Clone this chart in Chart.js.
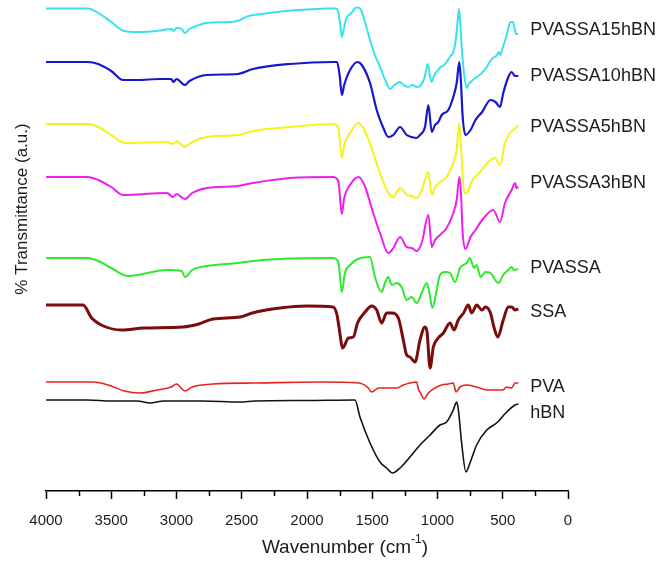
<!DOCTYPE html>
<html>
<head>
<meta charset="utf-8">
<script src="https://cdn.jsdelivr.net/npm/chart.js@4.4.0/dist/chart.umd.min.js"></script>
<style>
  body { margin: 0; background: #fff; }
  #wrap { width: 665px; height: 561px; }
</style>
</head>
<body>
<div id="wrap"><canvas id="myChart" width="665" height="561"></canvas></div>
<script>
// FTIR spectra, stacked with an offset. each point is [wavenumber (cm-1), transmittance (a.u.)]
const hBN = [[4000,91],[3680,91],[3500,90],[3300,90],[3203,88],[3100,90],[2800,90],[2513,89],[2400,90],[2000,90.5],[1632,91],[1594,74],[1517,48],[1441,29],[1390,23],[1344,18],[1287,23],[1211,34],[1134,46],[1057,56],[981,66],[930,69],[879,81],[853,89],[840,81],[815,48],[782,19],[751,28],[700,46],[623,61],[547,68],[470,79],[406,86],[381,87]]
const PVA = [[4000,109],[3640,109],[3500,105],[3400,100],[3280,98],[3150,101],[3040,104],[3000,107],[2935,100],[2880,104],[2720,107],[2400,108],[1900,109],[1600,108],[1530,103],[1505,99],[1450,103],[1313,103],[1262,106],[1211,108],[1160,109],[1145,101],[1134,99],[1103,92],[1070,98],[1019,103],[968,106],[917,107],[879,108],[858,99],[828,104],[777,106],[700,104],[623,101],[547,101],[500,101],[470,104],[432,103],[406,108],[381,108]]
const SSA = [[4000,186],[3716,186],[3650,173],[3560,165],[3418,161],[3250,163],[2950,164],[2830,167],[2720,172],[2513,174],[2420,178],[2207,183],[2000,185],[1800,184],[1770,176],[1755,164],[1726,143],[1683,153],[1645,154],[1613,168],[1555,179],[1504,185],[1466,181],[1428,168],[1390,178],[1350,178],[1300,173],[1262,151],[1236,136],[1211,134],[1172,129],[1134,151],[1096,164],[1080,159],[1057,123],[1032,144],[994,153],[955,158],[904,168],[873,161],[841,171],[800,178],[764,186],[738,178],[700,186],[660,181],[632,184],[594,178],[568,164],[538,154],[496,171],[457,184],[432,184],[406,181],[381,182]]
const PVASSA = [[4000,233],[3680,233],[3600,230],[3500,223],[3372,215],[3073,221],[2960,220],[2935,214],[2880,221],[2766,225],[2529,228],[2414,230],[2207,232],[1800,233],[1760,229],[1733,199],[1710,218],[1670,226],[1610,232],[1517,234],[1479,214],[1428,199],[1400,209],[1377,214],[1350,206],[1313,208],[1275,204],[1236,191],[1198,194],[1160,188],[1121,198],[1083,208],[1062,198],[1039,183],[1006,201],[981,216],[943,219],[904,218],[866,209],[828,223],[777,228],[751,233],[720,223],[700,226],[670,214],[632,219],[594,218],[534,208],[496,216],[457,221],[432,224],[415,221],[381,222]]
const PVASSA3hBN = [[4000,314],[3680,314],[3600,311],[3500,304],[3410,296],[3073,298],[3027,294],[3000,297],[2935,292],[2880,298],[2766,303],[2529,305],[2414,308],[2130,313],[1800,314],[1760,310],[1733,277],[1715,293],[1680,304],[1605,314],[1560,306],[1500,281],[1441,258],[1377,238],[1338,243],[1287,254],[1236,244],[1198,243],[1160,240],[1121,248],[1070,276],[1044,244],[1019,251],[981,256],[930,263],[879,278],[853,291],[833,314],[820,298],[807,258],[786,242],[747,254],[709,261],[658,271],[572,281],[521,269],[483,288],[432,301],[406,308],[395,303],[381,304]]
const PVASSA5hBN = [[4000,367],[3680,367],[3600,364],[3500,356],[3395,348],[3073,349],[3027,347],[3000,350],[2935,344],[2880,349],[2766,354],[2529,356],[2414,360],[2130,364],[1800,367],[1760,363],[1733,333],[1715,346],[1670,358],[1605,368],[1560,361],[1500,341],[1441,318],[1377,298],[1338,294],[1287,303],[1236,296],[1198,295],[1160,293],[1121,301],[1070,319],[1044,296],[1019,304],[981,309],[930,314],[879,328],[853,341],[833,368],[820,344],[794,298],[770,299],[740,309],[674,319],[611,329],[560,333],[521,326],[483,348],[444,358],[420,361],[393,364],[381,366]]
const PVASSA10hBN = [[4000,429],[3680,429],[3600,427],[3500,420],[3410,411],[3300,411],[3126,412],[3040,412],[3025,409],[3000,412],[2935,406],[2900,410],[2766,416],[2529,417],[2414,422],[2130,427],[1800,429],[1770,429],[1750,416],[1733,396],[1715,406],[1670,421],[1613,429],[1580,426],[1517,408],[1466,381],[1415,363],[1377,354],[1338,356],[1287,364],[1236,356],[1198,354],[1160,353],[1134,356],[1096,364],[1070,386],[1044,359],[1019,366],[994,369],[968,376],[917,381],[879,394],[853,408],[833,429],[820,408],[807,374],[786,356],[747,361],[709,371],[658,379],[594,391],[555,389],[521,384],[496,398],[457,414],[432,419],[406,415],[381,415]]
const PVASSA15hBN = [[4000,482.5],[3680,482.5],[3600,478],[3500,469],[3400,460],[3300,459],[3200,459.5],[3100,461],[3040,462],[3025,460],[3000,463],[2960,462],[2935,458],[2900,462],[2850,465],[2770,468],[2600,469],[2530,470],[2450,475],[2350,477],[2200,479.5],[2000,481.5],[1850,482.5],[1780,482.5],[1760,479],[1745,466],[1733,454],[1720,461],[1700,472],[1660,478],[1620,483.5],[1590,482],[1560,471],[1517,451],[1480,436],[1440,424],[1400,411],[1364,402],[1330,406],[1290,409],[1260,406],[1226,404],[1190,406],[1160,404],[1134,405],[1100,413],[1080,425],[1073,427],[1060,416],[1044,409],[1030,414],[1010,419],[996,421],[975,424],[958,425],[930,429],[900,435],[881,438],[860,451],[845,471],[835,482],[825,466],[810,436],[795,416],[776,403],[760,407],[730,411],[700,414],[660,418],[623,424],[600,429],[575,433],[550,435],[530,439],[521,436],[505,441],[498,444],[470,456],[450,466],[440,469],[421,469],[410,463],[398,457],[383,457]]

const names = ['hBN', 'PVA', 'SSA', 'PVASSA', 'PVASSA3hBN', 'PVASSA5hBN', 'PVASSA10hBN', 'PVASSA15hBN']
const spectra = [hBN, PVA, SSA, PVASSA, PVASSA3hBN, PVASSA5hBN, PVASSA10hBN, PVASSA15hBN]
const colors = ['#111111', '#e8231e', '#7b0c0c', '#2eea2e', '#ee1fee', '#f3f31a', '#1717cc', '#38e2ec']
const widths = [1.6, 1.6, 3, 2, 2, 2, 2.2, 2]
// where the name of each curve sits (wavenumber, a.u.)
const labelWn = 290
const labelLevels = [78, 104, 179, 223, 308, 364, 415, 461]
const majorTicks = [0, 500, 1000, 1500, 2000, 2500, 3000, 3500, 4000]
const minorTicks = [250, 750, 1250, 1750, 2250, 2750, 3250, 3750]

const FONT = '"Liberation Sans", Arial, sans-serif'

const extras = {
    id: 'extras',
    afterDraw(chart) {
        const ctx = chart.ctx
        const xs = chart.scales.x
        const ys = chart.scales.y
        const area = chart.chartArea
        ctx.save()
        // short ticks between the labelled ones
        ctx.strokeStyle = '#000'
        ctx.lineWidth = 1.5
        minorTicks.forEach(v => {
            const px = Math.round(xs.getPixelForValue(v)) + 0.5
            ctx.beginPath()
            ctx.moveTo(px, area.bottom)
            ctx.lineTo(px, area.bottom + 5)
            ctx.stroke()
        })
        // curve names on the right
        ctx.fillStyle = '#1c1c1c'
        ctx.font = '18px ' + FONT
        ctx.textAlign = 'left'
        ctx.textBaseline = 'middle'
        names.forEach((n, i) => {
            ctx.fillText(n, xs.getPixelForValue(labelWn), ys.getPixelForValue(labelLevels[i]))
        })
        // x title with superscript
        ctx.font = '19px ' + FONT
        const a = 'Wavenumber (cm', sup = '-1', b = ')'
        const supFont = '12px ' + FONT
        const wa = ctx.measureText(a).width
        const wb = ctx.measureText(b).width
        ctx.font = supFont
        const ws = ctx.measureText(sup).width
        let x0 = 345 - (wa + ws + wb) / 2
        const ty = 548
        ctx.font = '19px ' + FONT
        ctx.fillText(a, x0, ty)
        ctx.font = supFont
        ctx.fillText(sup, x0 + wa, ty - 8)
        ctx.font = '19px ' + FONT
        ctx.fillText(b, x0 + wa + ws, ty)
        // y title
        ctx.font = '17px ' + FONT
        ctx.translate(22, 209)
        ctx.rotate(-Math.PI / 2)
        ctx.textAlign = 'center'
        ctx.fillText('% Transmittance (a.u.)', 0, 0)
        ctx.restore()
    }
}

const datasets = spectra.map((s, i) => ({
    label: names[i],
    data: s.map(p => ({x: p[0], y: p[1]})),
    borderColor: colors[i],
    backgroundColor: 'transparent',
    borderWidth: widths[i],
    pointRadius: 0,
    cubicInterpolationMode: 'monotone',
    fill: false
}))

const ctx = document.getElementById('myChart').getContext('2d')
const myChart = new Chart(ctx, {
    type: 'line',
    data: { datasets: datasets },
    options: {
        responsive: false,
        animation: false,
        layout: { padding: { left: 46, right: 97, top: 0, bottom: 0 } },
        plugins: {
            legend: { display: false },
            tooltip: { enabled: false }
        },
        scales: {
            x: {
                type: 'linear',
                reverse: true,
                min: 0,
                max: 4000,
                afterBuildTicks: s => { s.ticks = majorTicks.map(v => ({value: v})) },
                afterFit: s => { s.height = 70 },
                ticks: { color: '#1c1c1c', font: { family: FONT, size: 15 }, padding: 13, maxRotation: 0, callback: v => String(v) },
                grid: { display: true, drawOnChartArea: false, drawTicks: true, tickLength: 8, tickColor: '#000', tickWidth: 1.5 },
                border: { display: true, color: '#000', width: 1.5 }
            },
            y: {
                type: 'linear',
                min: 0,
                max: 491,
                display: false
            }
        }
    },
    plugins: [extras]
})
</script>
</body>
</html>
